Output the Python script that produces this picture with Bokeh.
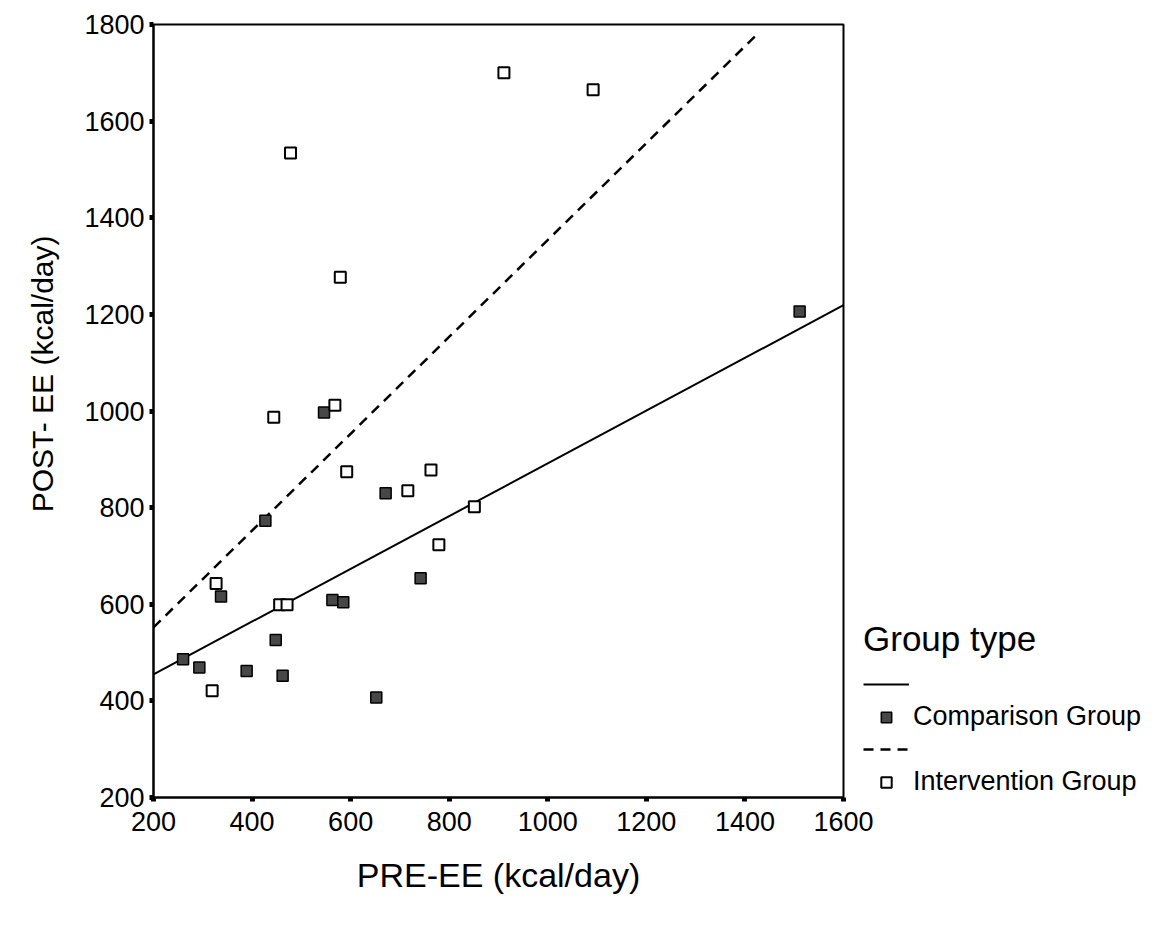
from bokeh.plotting import figure
from bokeh.models import Legend, LegendItem, Title, FixedTicker, Range1d
from bokeh.embed import file_html
from bokeh.resources import INLINE

# ---- data ----
comparison_pre = [260, 293, 337, 389, 427, 448, 462, 546, 563, 585, 652, 671, 742, 1511]
comparison_post = [486, 469, 616, 462, 773, 526, 452, 997, 609, 604, 407, 830, 654, 1206]

intervention_pre = [319, 327, 444, 456, 471, 478, 568, 579, 592, 716, 763, 779, 851, 911, 1092]
intervention_post = [421, 643, 987, 599, 599, 1534, 1012, 1277, 874, 835, 878, 723, 802, 1700, 1665]

# fitted lines (end points)
comparison_fit_x = [200, 1600]
comparison_fit_y = [455, 1219]
intervention_fit_x = [200, 1425]
intervention_fit_y = [552, 1780]

x_ticks = [200, 400, 600, 800, 1000, 1200, 1400, 1600]
y_ticks = [200, 400, 600, 800, 1000, 1200, 1400, 1600, 1800]

FONT = "Liberation Sans"

p = figure(frame_width=690, frame_height=773,
           x_range=Range1d(200, 1600), y_range=Range1d(200, 1800),
           output_backend="svg", toolbar_location=None,
           min_border_left=153, min_border_top=24,
           min_border_right=0, min_border_bottom=111)

p.xgrid.visible = False
p.ygrid.visible = False
p.background_fill_color = "white"
p.border_fill_color = "white"
p.outline_line_color = "black"
p.outline_line_width = 2
p.outline_line_alpha = 1

for ax, ticks in ((p.xaxis[0], x_ticks), (p.yaxis[0], y_ticks)):
    ax.ticker = FixedTicker(ticks=ticks)
    ax.axis_line_color = "black"
    ax.axis_line_width = 2
    ax.major_tick_line_color = "black"
    ax.major_tick_line_width = 5
    ax.major_tick_in = 0
    ax.major_tick_out = 4
    ax.minor_tick_line_color = None
    ax.major_label_text_font = FONT
    ax.major_label_text_font_size = "27px"
    ax.major_label_text_color = "black"

p.xaxis.major_label_standoff = 10
p.yaxis.major_label_standoff = 5

p.xaxis.axis_label = "PRE-EE (kcal/day)"
p.xaxis.axis_label_text_font = FONT
p.xaxis.axis_label_text_font_size = "34px"
p.xaxis.axis_label_text_font_style = "normal"
p.xaxis.axis_label_text_color = "black"
p.xaxis.axis_label_standoff = 22

ytitle = Title(text="POST- EE (kcal/day)", align="right", offset=211,
               text_font=FONT, text_font_size="30px", text_font_style="normal",
               text_color="black", standoff=45)
p.add_layout(ytitle, "left")

r_cl = p.line(comparison_fit_x, comparison_fit_y, line_color="black", line_width=2)
r_il = p.line(intervention_fit_x, intervention_fit_y, line_color="black",
              line_width=2.5, line_dash="10 7")
r_cs = p.scatter(comparison_pre, comparison_post, marker="square", size=11,
                 fill_color="#474747", line_color="black", line_width=1.5)
r_is = p.scatter(intervention_pre, intervention_post, marker="square", size=11,
                 fill_color="white", line_color="black", line_width=2)

legend = Legend(
    items=[
        LegendItem(label=" ", renderers=[r_cl]),
        LegendItem(label="Comparison Group", renderers=[r_cs]),
        LegendItem(label=" ", renderers=[r_il]),
        LegendItem(label="Intervention Group", renderers=[r_is]),
    ],
    title="Group type",
    location=(20, 0),
)
legend.margin = 0
legend.padding = 0
legend.border_line_alpha = 0
legend.background_fill_alpha = 0
legend.glyph_width = 46
legend.glyph_height = 26
legend.label_standoff = 4
legend.spacing = 4
legend.label_text_font = FONT
legend.label_text_font_size = "27px"
legend.label_text_color = "black"
legend.title_text_font = FONT
legend.title_text_font_size = "35px"
legend.title_text_font_style = "normal"
legend.title_text_color = "black"
legend.title_standoff = 12
p.add_layout(legend, "right")

open("out.html", "w").write(file_html(p, INLINE))
